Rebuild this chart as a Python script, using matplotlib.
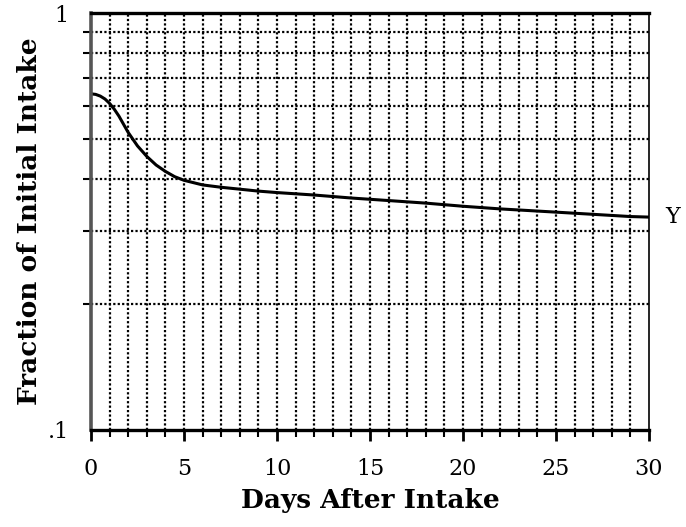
import matplotlib.pyplot as plt
from matplotlib.ticker import FixedLocator, NullFormatter
import numpy as np

# retention curve
days = [0, 0.25, 0.5, 0.75, 1, 1.25, 1.5, 2, 2.5, 3, 3.5, 4, 4.5, 5, 6, 7, 8, 9, 10, 12, 14,
        16, 18, 20, 22, 24, 26, 28, 29, 30]
fraction = [0.640, 0.638, 0.632, 0.622, 0.607, 0.588, 0.566, 0.517, 0.480, 0.453, 0.432, 0.417,
            0.405, 0.397, 0.387, 0.382, 0.378, 0.374, 0.371, 0.366, 0.360, 0.355, 0.350, 0.344,
            0.339, 0.335, 0.331, 0.327, 0.325, 0.324]
curve_label = 'Y'
x_major = [0, 5, 10, 15, 20, 25, 30]
x_minor = list(range(0, 31))
y_minor = [0.2, 0.3, 0.4, 0.5, 0.6, 0.7, 0.8, 0.9]

serif = ['DejaVu Serif']

fig = plt.figure(figsize=(6.86, 5.27), dpi=100)
ax = fig.add_axes([91 / 686, 1 - 430 / 527, (649 - 91) / 686, (430 - 13) / 527])

ax.set_yscale('log')
ax.set_xlim(0, 30)
ax.set_ylim(0.1, 1)

dots = dict(color='black', linestyle=(0, (1, 1)), linewidth=1.6)
for d in x_minor[1:-1]:
    ax.axvline(d, **dots)
for v in y_minor:
    ax.axhline(v, **dots)

ax.plot(days, fraction, color='black', linewidth=2.2, solid_capstyle='round')
ax.text(30.9, fraction[-1], curve_label, fontsize=16, family=serif, va='center', ha='left')

ax.set_xticks(x_major)
ax.set_xticklabels([str(t) for t in x_major], fontsize=16, family=serif)
ax.xaxis.set_minor_locator(FixedLocator(x_minor))
ax.set_yticks([0.1, 1])
ax.set_yticklabels(['.1', '1'], fontsize=16, family=serif)
ax.yaxis.set_minor_locator(FixedLocator(y_minor))
ax.yaxis.set_minor_formatter(NullFormatter())

ax.tick_params(axis='x', which='major', direction='out', length=8, width=2, pad=12)
ax.tick_params(axis='x', which='minor', direction='out', length=5, width=1.5)
ax.tick_params(axis='y', which='major', direction='out', length=0, pad=16)
ax.tick_params(axis='y', which='minor', direction='out', length=6, width=1.5)

for side in ['top', 'bottom']:
    ax.spines[side].set_linewidth(2.4)
ax.spines['left'].set_linewidth(2.6)
ax.spines['left'].set_color('#555555')
ax.spines['right'].set_linewidth(1.2)

ax.set_xlabel('Days After Intake', fontsize=19, fontweight='bold', family=serif, labelpad=6)
ax.set_ylabel('Fraction of Initial Intake', fontsize=19, fontweight='bold', family=serif, labelpad=4)

fig.savefig('out.png', dpi=100)
